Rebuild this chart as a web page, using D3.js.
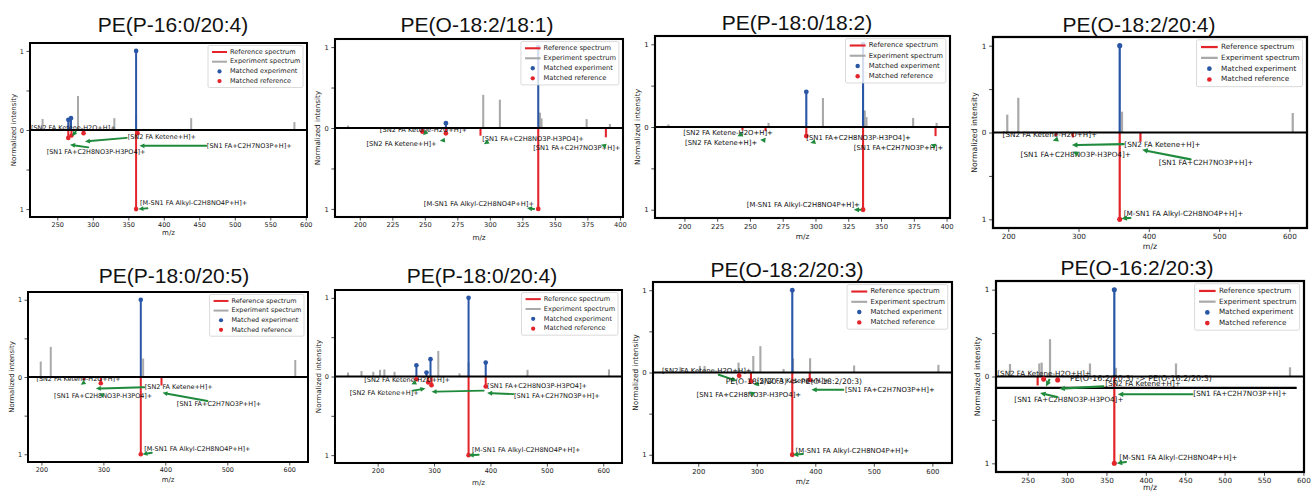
<!DOCTYPE html>
<html>
<head>
<meta charset="utf-8">
<script src="https://cdn.jsdelivr.net/npm/d3@7"></script>
<style>
  body { margin: 0; background: #fff; }
  svg { display: block; }
</style>
</head>
<body>
<svg id="chart" width="1311" height="497"></svg>
<script>
// ---- data ---------------------------------------------------------------
const titles = [
  "PE(P-16:0/20:4)", "PE(O-18:2/18:1)", "PE(P-18:0/18:2)", "PE(O-18:2/20:4)",
  "PE(P-18:0/20:5)", "PE(P-18:0/20:4)", "PE(O-18:2/20:3)", "PE(O-16:2/20:3)"
];

// experiment spectrum peaks: [m/z, normalized intensity]
const experiment = [
  [[229.3,0.14],[267,0.12],[279.2,0.43],[330.4,0.15],[361,0.2],[438.6,0.15],[584,0.10]],
  [[191,0.03],[294.9,0.41],[307.7,0.35],[338.5,0.19],[339.7,0.12],[374.4,0.11],[392.3,0.05]],
  [[187.8,0.03],[264.2,0.05],[305.7,0.35],[337.6,0.2],[338.9,0.12],[374.5,0.11],[392.4,0.05]],
  [[198.6,0.206],[214.3,0.40],[361.9,0.24],[604.8,0.225]],
  [[198.9,0.20],[215.1,0.39],[364.2,0.24],[609.7,0.22]],
  [[147.5,0.05],[171.3,0.07],[192.2,0.06],[204.2,0.085],[211.9,0.09],[229.9,0.06],[307.5,0.325],
   [345.1,0.04],[361.2,0.18],[465.7,0.085],[610.1,0.09]],
  [[146,0.04],[169.6,0.065],[202.9,0.08],[210.9,0.08],[268.9,0.12],[294.1,0.2],[306.2,0.32],
   [345.8,0.044],[362,0.17],[391.1,0.173],[466.3,0.085],[610.3,0.093]],
  [[227.6,0.145],[264.8,0.15],[267.8,0.16],[278.4,0.43],[329.1,0.15],[362.1,0.1],[438.3,0.15],[583,0.106]]
];

// experiment peaks matched to the reference: [m/z, intensity]
const matchedExperiment = [
  [[265.5,0.13],[269.3,0.15],[361,1.0]],
  [[266.2,0.06],[337.2,1.0]],
  [[293,0.425],[336.3,1.0]],
  [[358.6,1.0]],
  [[360.4,1.0]],
  [[268.7,0.143],[286.6,0.05],[293.7,0.22],[361.2,1.0],[391.6,0.177]],
  [[360.7,1.0]],
  [[360,1.0]]
];

// reference spectrum peaks (drawn downward): [m/z, intensity, matched]
const reference = [
  [[265.5,0.10,1],[270,0.07,1],[287,0.04,1],[361,1.0,1],[363,0.04,1]],
  [[248.2,0.045,1],[266.2,0.066,1],[292.8,0.095,0],[337.2,1.0,1],[389.2,0.115,0]],
  [[244.3,0.04,0],[261.9,0.05,0],[293,0.11,1],[336.3,1.0,1],[391.6,0.11,0]],
  [[268.1,0.04,0],[291.9,0.057,0],[358.6,1.0,1],[388.1,0.107,0]],
  [[268.9,0.04,0],[295.8,0.08,1],[360.4,1.0,1],[393.8,0.11,0]],
  [[268.7,0.034,1],[289.6,0.076,1],[295.5,0.11,1],[361.2,1.0,1],[391.6,0.127,1]],
  [[270,0.04,1],[290.1,0.11,1],[360.7,1.0,1],[390.5,0.09,1]],
  [[262.7,0.103,0],[270.3,0.03,1],[288.1,0.04,1],[360,1.0,1]]
];

// fragment annotations: [label, text m/z, text y, arrow-tail m/z, tail y, arrow-head m/z, head y]
const annotations = [
  [["[SN2 FA Ketene-H2O+H]+",212.8,0.02,276,-0.02,271,-0.08],
   ["[SN2 FA Ketene+H]+",349.2,-0.094,347.8,-0.10,289,-0.145],
   ["[SN1 FA+C2H8NO3P-H3PO4]+",235,-0.285,293.7,-0.22,267.9,-0.187],
   ["[SN1 FA+C2H7NO3P+H]+",460.7,-0.2,459.8,-0.2,365.7,-0.2],
   ["[M-SN1 FA Alkyl-C2H8NO4P+H]+",366.6,-0.93,377,-0.99,364.3,-1.0]],
  [["[SN2 FA Ketene-H2O+H]+",215.4,-0.025,250.5,-0.06,248.7,-0.09],
   ["[SN2 FA Ketene+H]+",205.1,-0.2,265.4,-0.15,261.5,-0.157],
   ["[SN1 FA+C2H8NO3P-H3PO4]+",294.1,-0.136,297.4,-0.18,295.4,-0.2],
   ["[SN1 FA+C2H7NO3P+H]+",333.3,-0.25,388.5,-0.22,385.4,-0.207],
   ["[M-SN1 FA Alkyl-C2H8NO4P+H]+",249.2,-0.94,334,-1.0,328.5,-0.99]],
  [["[SN2 FA Ketene-H2O+H]+",199.2,-0.07,243,-0.095,240.5,-0.113],
   ["[SN2 FA Ketene+H]+",200.5,-0.194,261,-0.16,257.8,-0.154],
   ["[SN1 FA+C2H8NO3P-H3PO4]+",293,-0.14,299,-0.18,296,-0.194],
   ["[SN1 FA+C2H7NO3P+H]+",329.2,-0.255,390.8,-0.227,387.8,-0.21],
   ["[M-SN1 FA Alkyl-C2H8NO4P+H]+",247.6,-0.94,334.3,-1.0,329.2,-1.0]],
  [["[SN2 FA Ketene-H2O+H]+",191.9,-0.03,269,-0.08,263.3,-0.095],
   ["[SN2 FA Ketene+H]+",365.2,-0.145,364.3,-0.134,290.5,-0.145],
   ["[SN1 FA+C2H8NO3P-H3PO4]+",217.6,-0.26,297,-0.24,292,-0.22],
   ["[SN1 FA+C2H7NO3P+H]+",414.3,-0.355,459.5,-0.31,390.5,-0.2],
   ["[M-SN1 FA Alkyl-C2H8NO4P+H]+",364.3,-0.94,373.8,-0.985,361,-0.99]],
  [["[SN2 FA Ketene-H2O+H]+",191.9,-0.034,269,-0.07,263.5,-0.1],
   ["[SN2 FA Ketene+H]+",366.9,-0.128,365.8,-0.132,287.8,-0.15],
   ["[SN1 FA+C2H8NO3P-H3PO4]+",220.5,-0.248,299.6,-0.235,293.1,-0.214],
   ["[SN1 FA+C2H7NO3P+H]+",418.6,-0.355,468,-0.31,395.4,-0.205],
   ["[M-SN1 FA Alkyl-C2H8NO4P+H]+",365.8,-0.94,378.2,-0.98,363.1,-1.0]],
  [["[SN2 FA Ketene-H2O+H]+",176.1,-0.042,266.9,-0.076,259.7,-0.097],
   ["[SN2 FA Ketene+H]+",150.4,-0.21,262.7,-0.18,284.8,-0.152],
   ["[SN1 FA+C2H8NO3P-H3PO4]+",394,-0.127,388,-0.18,295.5,-0.194],
   ["[SN1 FA+C2H7NO3P+H]+",441.8,-0.245,440.6,-0.224,394,-0.21],
   ["[M-SN1 FA Alkyl-C2H8NO4P+H]+",367.2,-0.94,379.1,-0.996,361.2,-1.0]],
  [["[SN2 FA Ketene-H2O+H]+",138,0.012,235,-0.028,266,-0.1],
   ["[SN2 FA Ketene+H]+",300.4,-0.1,302,-0.14,294.7,-0.15],
   ["[SN1 FA+C2H8NO3P-H3PO4]+",197.1,-0.27,293,-0.258,287.2,-0.23],
   ["[SN1 FA+C2H7NO3P+H]+",450.8,-0.21,447.9,-0.21,393.4,-0.21],
   ["[M-SN1 FA Alkyl-C2H8NO4P+H]+",366.4,-0.95,379,-0.99,361.8,-1.0]],
  [["[SN2 FA Ketene-H2O+H]+",211.5,0.023,277.5,-0.038,273.3,-0.114],
   ["[SN2 FA Ketene+H]+",348.6,-0.084,346.1,-0.114,290.2,-0.14],
   ["[SN1 FA+C2H8NO3P-H3PO4]+",233.1,-0.266,287.7,-0.236,265.7,-0.19],
   ["[SN1 FA+C2H7NO3P+H]+",460.3,-0.205,459.1,-0.205,364.3,-0.205],
   ["[M-SN1 FA Alkyl-C2H8NO4P+H]+",366.4,-0.94,374.8,-0.985,363,-1.0]]
];

// precursor notes: [panel, label, m/z, y]
const precursorNotes = [
  [6, "PE(O-18:2/20:3) -> PE(O-18:2/20:3)", 247, -0.109],
  [7, "PE(O-16:2/20:3) -> PE(O-16:2/20:3)", 303.7, -0.03]
];
// extra horizontal rule: [panel, y, m/z from, m/z to]
const extraRules = [[7, -0.13, 209.8, 591.5]];

const xTicks = [
  [250,300,350,400,450,500,550,600],
  [200,225,250,275,300,325,350,375,400],
  [200,225,250,275,300,325,350,375,400],
  [200,300,400,500,600],
  [200,300,400,500,600],
  [200,300,400,500,600],
  [200,300,400,500,600],
  [250,300,350,400,450,500,550,600]
];
const yTicks = [1, 0.5, 0, -0.5, -1];
const yTickLabels = ["1", "", "0", "", "1"];
const legendLabels = ["Reference spectrum", "Experiment spectrum", "Matched experiment", "Matched reference"];

// ---- layout & style -----------------------------------------------------
const frames = [
  {l:30,  r:307,  t:43,  b:217, tx:173,  ty:32,  xl:16},
  {l:335, r:623,  t:39,  b:217, tx:477,  ty:32,  xl:21},
  {l:655, r:950,  t:36,  b:218, tx:797,  ty:30,  xl:19},
  {l:993, r:1307, t:37,  b:228, tx:1139, ty:32,  xl:19},
  {l:28,  r:308,  t:292, b:462, tx:174,  ty:283, xl:18},
  {l:335, r:622,  t:290, b:463, tx:482,  ty:283, xl:20},
  {l:653, r:952,  t:282, b:463, tx:787,  ty:277, xl:19},
  {l:996, r:1304, t:281, b:472, tx:1137, ty:275, xl:16}
];
const RED = "#e3242b", GRAY = "#a9a9a9", BLUE = "#2a56a6", GREEN = "#1f8a3b";
const FONT = "'DejaVu Sans', sans-serif";
const TITLE_FONT = "'Liberation Sans', Arial, sans-serif";

const svg = d3.select("#chart");

function arrow(g, x0, y0, x1, y1, s) {
  const dx = x1 - x0, dy = y1 - y0, len = Math.hypot(dx, dy);
  if (len === 0) return;
  const ux = dx / len, uy = dy / len;
  const hl = 5 * s, hw = 2.4 * s;
  const bx = x1 - ux * Math.min(hl, len + hl * 0.6), by = y1 - uy * Math.min(hl, len + hl * 0.6);
  if (len > hl) {
    g.append("line").attr("x1", x0).attr("y1", y0).attr("x2", bx).attr("y2", by)
      .attr("stroke", GREEN).attr("stroke-width", 1.9 * s).attr("stroke-linecap", "round");
  }
  g.append("path")
    .attr("d", `M${x1},${y1}L${bx - uy * hw},${by + ux * hw}L${bx + uy * hw},${by - ux * hw}Z`)
    .attr("fill", GREEN);
}

frames.forEach((f, i) => {
  const s = ((f.r - f.l) / 277 + (f.b - f.t) / 174) / 2;
  const g = svg.append("g");

  // x extent from all peaks with a 5% margin on each side
  const mzs = experiment[i].concat(matchedExperiment[i], reference[i]).map(d => d[0]);
  const [lo, hi] = d3.extent(mzs);
  const pad = (hi - lo) * 0.05;
  const x = d3.scaleLinear().domain([lo - pad, hi + pad]).range([f.l, f.r]);
  const y = d3.scaleLinear().domain([-1.1, 1.1]).range([f.b, f.t]);

  // title
  g.append("text").attr("x", f.tx).attr("y", f.ty).attr("text-anchor", "middle")
    .attr("font-family", TITLE_FONT).attr("font-size", 21).attr("fill", "#111")
    .text(titles[i]);

  // axes
  const xAxis = d3.axisBottom(x).tickValues(xTicks[i]).tickSize(3.5 * s).tickPadding(2 * s);
  const gx = g.append("g").attr("transform", `translate(0,${f.b})`).call(xAxis);
  const yAxis = d3.axisLeft(y).tickValues(yTicks).tickFormat((d, k) => yTickLabels[k])
    .tickSize(3.5 * s).tickPadding(2.5 * s);
  const gy = g.append("g").attr("transform", `translate(${f.l},0)`).call(yAxis);
  [gx, gy].forEach(a => {
    a.select(".domain").remove();
    a.selectAll("line").attr("stroke", "#222").attr("stroke-width", 0.8);
    a.selectAll("text").attr("font-family", FONT).attr("font-size", 6.5 * s).attr("fill", "#222");
  });
  g.append("text").attr("x", (f.l + f.r) / 2).attr("y", f.b + f.xl).attr("text-anchor", "middle")
    .attr("dominant-baseline", "middle")
    .attr("font-family", FONT).attr("font-size", 7 * s).attr("fill", "#222").text("m/z");
  g.append("text").attr("transform", `translate(${f.l - 16 * s},${(f.t + f.b) / 2}) rotate(-90)`)
    .attr("text-anchor", "middle").attr("dominant-baseline", "middle")
    .attr("font-family", FONT).attr("font-size", 7 * s).attr("fill", "#222").text("Normalized intensity");

  const lw = 2 * s;
  // experiment spectrum (gray, upward)
  g.append("g").selectAll("line").data(experiment[i]).join("line")
    .attr("x1", d => x(d[0])).attr("x2", d => x(d[0]))
    .attr("y1", y(0)).attr("y2", d => y(d[1]))
    .attr("stroke", GRAY).attr("stroke-width", lw);
  // reference spectrum (red, downward)
  g.append("g").selectAll("line").data(reference[i]).join("line")
    .attr("x1", d => x(d[0])).attr("x2", d => x(d[0]))
    .attr("y1", y(0)).attr("y2", d => y(-d[1]))
    .attr("stroke", RED).attr("stroke-width", lw);
  // matched experiment peaks (blue)
  g.append("g").selectAll("line").data(matchedExperiment[i]).join("line")
    .attr("x1", d => x(d[0])).attr("x2", d => x(d[0]))
    .attr("y1", y(0)).attr("y2", d => y(d[1]))
    .attr("stroke", BLUE).attr("stroke-width", lw);

  // zero line
  g.append("line").attr("x1", f.l).attr("x2", f.r).attr("y1", y(0)).attr("y2", y(0))
    .attr("stroke", "#000").attr("stroke-width", 2 * s);
  extraRules.filter(r => r[0] === i).forEach(r => {
    g.append("line").attr("x1", x(r[2])).attr("x2", x(r[3])).attr("y1", y(r[1])).attr("y2", y(r[1]))
      .attr("stroke", "#000").attr("stroke-width", 2 * s);
  });

  // markers
  g.append("g").selectAll("circle").data(matchedExperiment[i]).join("circle")
    .attr("cx", d => x(d[0])).attr("cy", d => y(d[1])).attr("r", 2.3 * s).attr("fill", BLUE);
  g.append("g").selectAll("circle").data(reference[i].filter(d => d[2])).join("circle")
    .attr("cx", d => x(d[0])).attr("cy", d => y(-d[1])).attr("r", 2.3 * s).attr("fill", RED);

  // fragment annotations
  const ga = g.append("g");
  annotations[i].forEach(a => {
    ga.append("text").attr("x", x(a[1])).attr("y", y(a[2])).attr("dominant-baseline", "middle")
      .attr("font-family", FONT).attr("font-size", 6.5 * s).attr("fill", "#111").text(a[0]);
    arrow(ga, x(a[3]), y(a[4]), x(a[5]), y(a[6]), s);
  });
  precursorNotes.filter(p => p[0] === i).forEach(p => {
    ga.append("text").attr("x", x(p[2])).attr("y", y(p[3])).attr("dominant-baseline", "middle")
      .attr("font-family", FONT).attr("font-size", 7.2 * s).attr("fill", "#111").text(p[1]);
  });

  // legend
  const lwid = 95 * s, lh = 42 * s;
  const lx = f.r - 4 * s - lwid, ly = f.t + 2.5 * s;
  const gl = g.append("g");
  gl.append("rect").attr("x", lx).attr("y", ly).attr("width", lwid).attr("height", lh)
    .attr("rx", 1.5).attr("fill", "#fff").attr("fill-opacity", 0.8)
    .attr("stroke", "#d0d0d0").attr("stroke-width", 0.8);
  legendLabels.forEach((lab, k) => {
    const cy = ly + 6.5 * s + k * 9.7 * s;
    if (k < 2) {
      gl.append("line").attr("x1", lx + 4 * s).attr("x2", lx + 19 * s).attr("y1", cy).attr("y2", cy)
        .attr("stroke", k === 0 ? RED : GRAY).attr("stroke-width", 2 * s);
    } else {
      gl.append("circle").attr("cx", lx + 11.5 * s).attr("cy", cy).attr("r", 2.1 * s)
        .attr("fill", k === 2 ? BLUE : RED);
    }
    gl.append("text").attr("x", lx + 22 * s).attr("y", cy).attr("dominant-baseline", "middle")
      .attr("font-family", FONT).attr("font-size", 6.5 * s).attr("fill", "#222").text(lab);
  });

  // frame
  g.append("rect").attr("x", f.l).attr("y", f.t).attr("width", f.r - f.l).attr("height", f.b - f.t)
    .attr("fill", "none").attr("stroke", "#000").attr("stroke-width", 2 * s);
});
</script>
</body>
</html>
